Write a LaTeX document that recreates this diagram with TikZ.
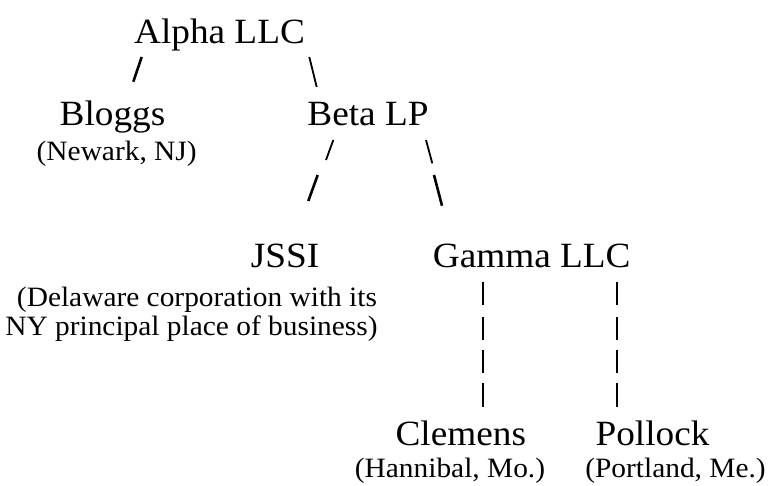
\documentclass[tikz,border=0pt]{standalone}
\usepackage{fontspec}
\setmainfont{Liberation Serif}[FakeStretch=1.05]
\begin{document}
\begin{tikzpicture}[x=1pt,y=-1pt,
  big/.style={anchor=base, inner sep=0pt, font=\fontsize{35.5}{40}\selectfont},
  small/.style={anchor=base, inner sep=0pt, font=\fontsize{28}{30}\selectfont},
  slashthick/.style={line width=2.6pt},
  slashthin/.style={line width=1.8pt},
  barline/.style={line width=1.8pt}]
\useasboundingbox (0,0) rectangle (769,485);
% entities
\node[big] (alpha) at (219.5,43) {Alpha LLC};
\node[big] (bloggs) at (112.5,125) {Bloggs};
\node[small] (bloggsloc) at (116.7,160) {(Newark, NJ)};
\node[big] (beta) at (368,125) {Beta LP};
\node[big] (jssi) at (285,267) {JSSI};
\node[small] (jssiloc1) at (197,306) {(Delaware corporation with its};
\node[small] (jssiloc2) at (191.5,335) {NY principal place of business)};
\node[big] (gamma) at (531.7,267) {Gamma LLC};
\node[big] (clemens) at (460.8,445) {Clemens};
\node[small] (clemensloc) at (450,477) {(Hannibal, Mo.)};
\node[big] (pollock) at (652.5,445) {Pollock};
\node[small] (pollockloc) at (675.5,477) {(Portland, Me.)};
% connector ends
\coordinate (ab1) at (141.7,57);  \coordinate (ab2) at (133.3,81.7);
\coordinate (ac1) at (309.3,57);  \coordinate (ac2) at (316.7,87);
\coordinate (bj1) at (333.3,140); \coordinate (bj2) at (326,160);
\coordinate (bj3) at (317.7,175); \coordinate (bj4) at (308.3,201);
\coordinate (bg1) at (426,140);   \coordinate (bg2) at (432.3,163.3);
\coordinate (bg3) at (434,175);   \coordinate (bg4) at (442,205.7);
% connectors
\draw[slashthick] (ab1) -- (ab2);
\draw[slashthin]  (ac1) -- (ac2);
\draw[slashthin]  (bj1) -- (bj2);
\draw[slashthick] (bj3) -- (bj4);
\draw[slashthin]  (bg1) -- (bg2);
\draw[slashthick] (bg3) -- (bg4);
\foreach \i/\ya/\yb in {1/281.7/305, 2/316.7/340, 3/350/373.3, 4/383.3/406.7} {
  \coordinate (gc\i a) at (483.3,\ya); \coordinate (gc\i b) at (483.3,\yb);
  \coordinate (gp\i a) at (616.7,\ya); \coordinate (gp\i b) at (616.7,\yb);
  \draw[barline] (gc\i a) -- (gc\i b);
  \draw[barline] (gp\i a) -- (gp\i b);
}
\end{tikzpicture}
\end{document}
